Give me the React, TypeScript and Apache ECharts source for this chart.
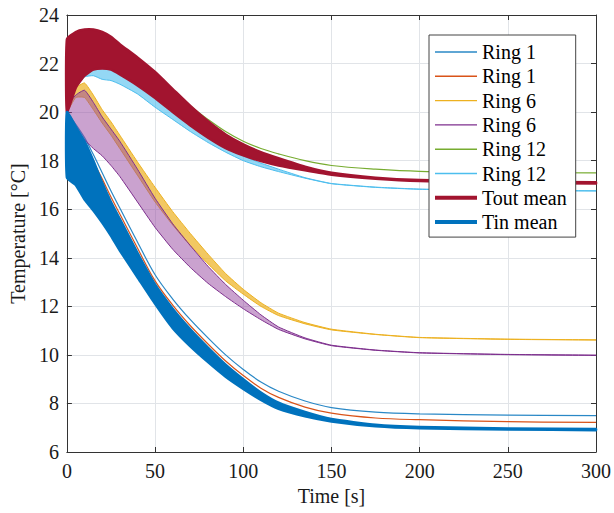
import React, { useEffect, useRef } from "react";
import * as echarts from "echarts";

// Time knots [s]
const time = [0, 5, 10, 15, 20, 25, 30, 40, 50, 60, 70, 80, 90, 100, 110, 120, 135, 150, 175, 200, 250, 300];

// Ring 1 (blue) and Ring 1 (orange) — thin lines
const ring1Blue = [20.0, 19.5, 18.95, 18.25, 17.5, 16.75, 16.05, 14.65, 13.3, 12.3, 11.45, 10.7, 10.0, 9.4, 8.88, 8.5, 8.1, 7.83, 7.64, 7.57, 7.52, 7.5];
const ring1Orange = [20.0, 19.3, 18.7, 17.95, 17.25, 16.5, 15.8, 14.4, 13.05, 12.05, 11.2, 10.45, 9.75, 9.15, 8.63, 8.25, 7.85, 7.6, 7.4, 7.33, 7.25, 7.22];

// Ring 6 (yellow) oscillation envelope
const ring6YellowUpper = [20.3, 21.0, 21.2, 20.7, 20.1, 19.6, 19.05, 17.95, 16.9, 15.9, 15.0, 14.15, 13.35, 12.7, 12.15, 11.72, 11.33, 11.06, 10.85, 10.72, 10.65, 10.62];
const ring6YellowLower = [20.0, 20.6, 20.6, 20.1, 19.55, 19.05, 18.5, 17.4, 16.3, 15.35, 14.5, 13.75, 13.05, 12.5, 12.0, 11.62, 11.28, 11.03, 10.84, 10.71, 10.64, 10.61];

// Ring 6 (purple) oscillation envelope
const ring6PurpleUpper = [20.2, 20.7, 20.9, 20.4, 19.8, 19.3, 18.8, 17.65, 16.45, 15.4, 14.5, 13.65, 12.9, 12.25, 11.65, 11.15, 10.7, 10.4, 10.2, 10.09, 10.02, 9.99];
const ring6PurpleLower = [19.6, 19.1, 18.85, 18.5, 18.2, 17.8, 17.35, 16.3, 15.25, 14.35, 13.6, 12.95, 12.4, 11.9, 11.45, 11.05, 10.66, 10.38, 10.19, 10.08, 10.01, 9.98];

// Ring 12 (green) — thin line
const ring12Green = [21.5, 22.5, 22.9, 23.0, 22.9, 22.7, 22.45, 22.0, 21.4, 20.8, 20.25, 19.7, 19.2, 18.8, 18.5, 18.28, 18.0, 17.8, 17.65, 17.56, 17.51, 17.5];

// Ring 12 (cyan) oscillation envelope
const ring12CyanUpper = [20.0, 21.0, 21.5, 21.75, 21.8, 21.75, 21.55, 21.1, 20.6, 20.0, 19.45, 18.95, 18.5, 18.2, 17.9, 17.65, 17.3, 17.06, 16.91, 16.83, 16.78, 16.76];
const ring12CyanLower = [20.0, 21.0, 21.45, 21.5, 21.35, 21.3, 21.15, 20.75, 20.2, 19.7, 19.2, 18.75, 18.35, 18.0, 17.75, 17.55, 17.28, 17.05, 16.9, 16.82, 16.77, 16.75];

// Tout mean (red) oscillation envelope
const toutUpper = [23.0, 23.3, 23.4, 23.4, 23.3, 23.1, 22.8, 22.25, 21.65, 20.95, 20.25, 19.62, 19.08, 18.67, 18.35, 18.1, 17.75, 17.5, 17.3, 17.2, 17.13, 17.11];
const toutLower = [20.0, 21.0, 21.5, 21.75, 21.8, 21.75, 21.55, 21.1, 20.58, 20.0, 19.45, 18.95, 18.52, 18.22, 17.98, 17.8, 17.6, 17.42, 17.26, 17.16, 17.08, 17.06];

// Tin mean (blue) oscillation envelope
const tinUpper = [20.0, 19.4, 18.8, 18.0, 17.1, 16.3, 15.6, 14.2, 12.9, 11.9, 11.05, 10.3, 9.6, 9.0, 8.45, 8.03, 7.65, 7.36, 7.12, 7.03, 6.97, 6.95];
const tinLower = [17.3, 17.0, 16.4, 15.95, 15.45, 14.9, 14.3, 13.2, 12.1, 11.1, 10.35, 9.7, 9.1, 8.6, 8.15, 7.78, 7.47, 7.26, 7.06, 6.98, 6.93, 6.9];

// Axis ticks
const xTicks = { min: 0, max: 300, interval: 50 };
const yTicks = { min: 6, max: 24, interval: 2 };

const legendNames = ["Ring 1", "Ring 1 ", "Ring 6", "Ring 6 ", "Ring 12", "Ring 12 ", "Tout mean", "Tin mean"];

const FONT = "Liberation Serif";
const SMOOTH = 0.35;

const C = {
  blue: "#0072BD",
  ring1: "#2a88c6",
  orange: "#D95319",
  yellow: "#EDB120",
  purple: "#7E2F8E",
  green: "#77AC30",
  cyan: "#4DBEEE",
  red: "#A2142F",
};

let zc = 2;

function lineSeries(name: string, vals: number[], color: string, width: number) {
  return {
    name,
    type: "line",
    z: zc++,
    data: time.map((t, i) => [t, vals[i]]),
    symbol: "none",
    smooth: SMOOTH,
    itemStyle: { color },
    lineStyle: { color, width },
  };
}

function bandSeries(name: string, lo: number[], up: number[], color: string, fill: string, edge: number) {
  return {
    name,
    type: "custom",
    z: zc++,
    data: time.map((t, i) => [t, lo[i], up[i]]),
    encode: { x: 0, y: [1, 2] },
    itemStyle: { color },
    renderItem: (params: any, api: any) => {
      if (params.dataIndex !== 0) return null;
      const top = time.map((t, i) => api.coord([t, up[i]]));
      const bot = time.map((t, i) => api.coord([t, lo[i]])).reverse();
      return {
        type: "polygon",
        shape: { points: top.concat(bot), smooth: 0.15 },
        style: { fill, stroke: color, lineWidth: edge, lineJoin: "round" },
      };
    },
  };
}

const axisColor = "#333";
const labelStyle = { fontSize: 20, fontFamily: FONT, color: "#1a1a1a" };

export default function App() {
  const ref = useRef<HTMLDivElement>(null);
  useEffect(() => {
    document.body.style.margin = "0";
    if (!ref.current) return;
    const chart = echarts.init(ref.current, undefined, { renderer: "svg" });
    const thin = "path://M0 0H42V1.4H0Z";
    const thick = "path://M0 0H42V4H0Z";
    const legendColors = [C.ring1, C.orange, C.yellow, C.purple, C.green, C.cyan, C.red, C.blue];
    zc = 2;
    const series = [
      lineSeries("Ring 1", ring1Blue, C.ring1, 1.2),
      lineSeries("Ring 1 ", ring1Orange, C.orange, 1.2),
      bandSeries("Ring 6", ring6YellowLower, ring6YellowUpper, C.yellow, "rgba(237,177,32,0.7)", 1),
      bandSeries("Ring 6 ", ring6PurpleLower, ring6PurpleUpper, C.purple, "rgba(150,70,160,0.5)", 1),
      lineSeries("Ring 12", ring12Green, C.green, 1.2),
      bandSeries("Ring 12 ", ring12CyanLower, ring12CyanUpper, C.cyan, "rgba(77,190,238,0.6)", 1),
      bandSeries("Tout mean", toutLower, toutUpper, C.red, C.red, 2.5),
      bandSeries("Tin mean", tinLower, tinUpper, C.blue, C.blue, 2.5),
    ];
    chart.setOption({
      animation: false,
      backgroundColor: "#fff",
      textStyle: { fontFamily: FONT },
      grid: { left: 63, right: 17, top: 15, bottom: 61, containLabel: false },
      legend: {
        orient: "vertical",
        left: 429,
        top: 35,
        z: 50,
        backgroundColor: "#fff",
        borderColor: "#444",
        borderWidth: 1,
        borderRadius: 0,
        padding: [7, 9, 5, 6],
        itemWidth: 42,
        itemHeight: 14,
        itemGap: 4.3,
        symbolKeepAspect: true,
        selectedMode: false,
        textStyle: { fontSize: 20, fontFamily: FONT, color: "#000", lineHeight: 20 },
        formatter: (n: string) => n.trim(),
        data: legendNames.map((n, i) => ({
          name: n,
          icon: i >= 6 ? thick : thin,
          itemStyle: { color: legendColors[i] },
        })),
      },
      xAxis: [
        {
          type: "value",
          ...xTicks,
          position: "bottom",
          name: "Time [s]",
          nameLocation: "middle",
          nameGap: 28,
          nameTextStyle: { ...labelStyle },
          axisLine: { show: true, onZero: false, lineStyle: { color: axisColor, width: 1 } },
          axisTick: { show: true, inside: true, length: 5, lineStyle: { color: axisColor } },
          axisLabel: { ...labelStyle, margin: 9 },
          splitLine: { show: true, lineStyle: { color: "#e1e4e8", width: 1 } },
        },
        {
          type: "value",
          ...xTicks,
          position: "top",
          axisLine: { show: true, onZero: false, lineStyle: { color: axisColor, width: 1 } },
          axisTick: { show: true, inside: true, length: 5, lineStyle: { color: axisColor } },
          axisLabel: { show: false },
          splitLine: { show: false },
        },
      ],
      yAxis: [
        {
          type: "value",
          ...yTicks,
          position: "left",
          name: "Temperature [°C]",
          nameLocation: "middle",
          nameGap: 35,
          nameTextStyle: { ...labelStyle },
          axisLine: { show: true, onZero: false, lineStyle: { color: axisColor, width: 1 } },
          axisTick: { show: true, inside: true, length: 5, lineStyle: { color: axisColor } },
          axisLabel: { ...labelStyle, margin: 8 },
          splitLine: { show: true, lineStyle: { color: "#e1e4e8", width: 1 } },
        },
        {
          type: "value",
          ...yTicks,
          position: "right",
          axisLine: { show: true, onZero: false, lineStyle: { color: axisColor, width: 1 } },
          axisTick: { show: true, inside: true, length: 5, lineStyle: { color: axisColor } },
          axisLabel: { show: false },
          splitLine: { show: false },
        },
      ],
      series,
    });
    return () => chart.dispose();
  }, []);
  return <div ref={ref} style={{ position: "fixed", left: 0, top: 0, width: 614, height: 513 }} />;
}
